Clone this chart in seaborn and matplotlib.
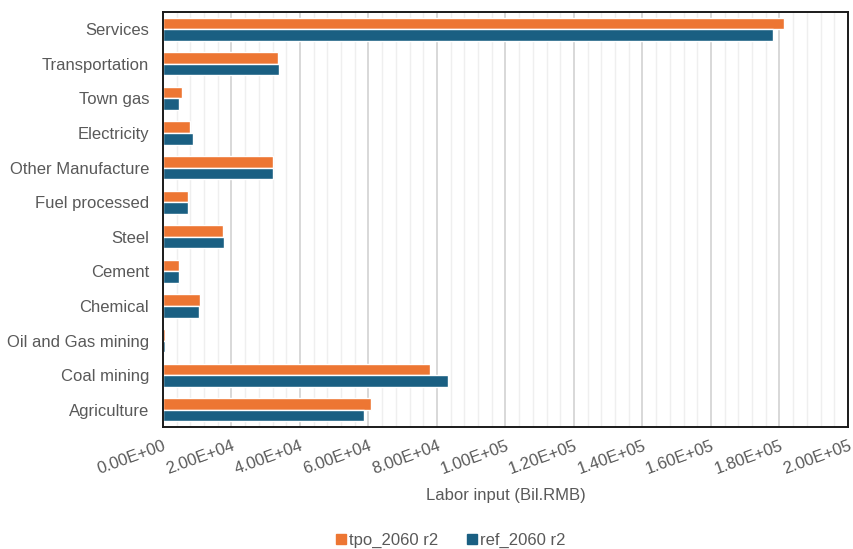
import matplotlib
matplotlib.use("Agg")
import matplotlib.pyplot as plt
from matplotlib.ticker import MultipleLocator, FuncFormatter
from matplotlib.lines import Line2D
import seaborn as sns
import pandas as pd

# Sector labor input, 2060, two scenarios
sectors = ["Services", "Transportation", "Town gas", "Electricity", "Other Manufacture",
           "Fuel processed", "Steel", "Cement", "Chemical", "Oil and Gas mining",
           "Coal mining", "Agriculture"]
tpo_2060 = [181400, 33500, 5500, 7900, 32100, 7200, 17500, 4800, 10700, 600, 77900, 60800]
ref_2060 = [178100, 33800, 4800, 8800, 32100, 7200, 17800, 4800, 10500, 600, 83100, 58700]
series_names = ["tpo_2060 r2", "ref_2060 r2"]
colors = ["#ED7633", "#1A5F82"]

df = pd.DataFrame({
    "sector": sectors * 2,
    "value": tpo_2060 + ref_2060,
    "scenario": [series_names[0]] * len(sectors) + [series_names[1]] * len(sectors),
})

sns.set_style("white")
plt.rcParams["font.family"] = ["Liberation Sans", "DejaVu Sans"]
text_color = "#595959"

fig = plt.figure(figsize=(8.54, 5.49), dpi=100)
ax = fig.add_axes([163 / 854, 1 - 427 / 549, (848 - 163) / 854, (427 - 12) / 549])

sns.barplot(data=df, y="sector", x="value", hue="scenario", order=sectors,
            hue_order=series_names, palette=colors, orient="h", width=0.67,
            saturation=1, ax=ax, legend=False)

ax.set_xlim(0, 200000)
ax.xaxis.set_major_locator(MultipleLocator(20000))
ax.xaxis.set_minor_locator(MultipleLocator(4000))
ax.xaxis.set_major_formatter(FuncFormatter(lambda v, p: f"{v:.2E}"))
ax.grid(axis="x", which="major", color="#d6d6d6", linewidth=1.3)
ax.grid(axis="x", which="minor", color="#efefef", linewidth=1.0)
ax.set_axisbelow(True)
ax.tick_params(axis="both", which="both", length=0, colors=text_color, labelsize=12)
for lbl in ax.get_xticklabels():
    lbl.set_rotation(20)
    lbl.set_ha("right")
    lbl.set_rotation_mode("anchor")
ax.tick_params(axis="x", pad=8)
ax.tick_params(axis="y", pad=10)

for s in ax.spines.values():
    s.set_visible(True)
    s.set_color("#1a1a1a")
    s.set_linewidth(1.4)

ax.set_ylabel("")
ax.set_xlabel("Labor input (Bil.RMB)", color=text_color, fontsize=12, labelpad=8)

handles = [Line2D([], [], marker="s", linestyle="none", markersize=7,
                  markerfacecolor=c, markeredgecolor=c) for c in colors]
fig.legend(handles, series_names, loc="center", bbox_to_anchor=(450 / 854, 1 - 540 / 549),
           ncol=2, frameon=False, fontsize=12, labelcolor=text_color,
           handletextpad=0.1, columnspacing=1.6, handlelength=0.8)

fig.savefig("out.png", dpi=100)
